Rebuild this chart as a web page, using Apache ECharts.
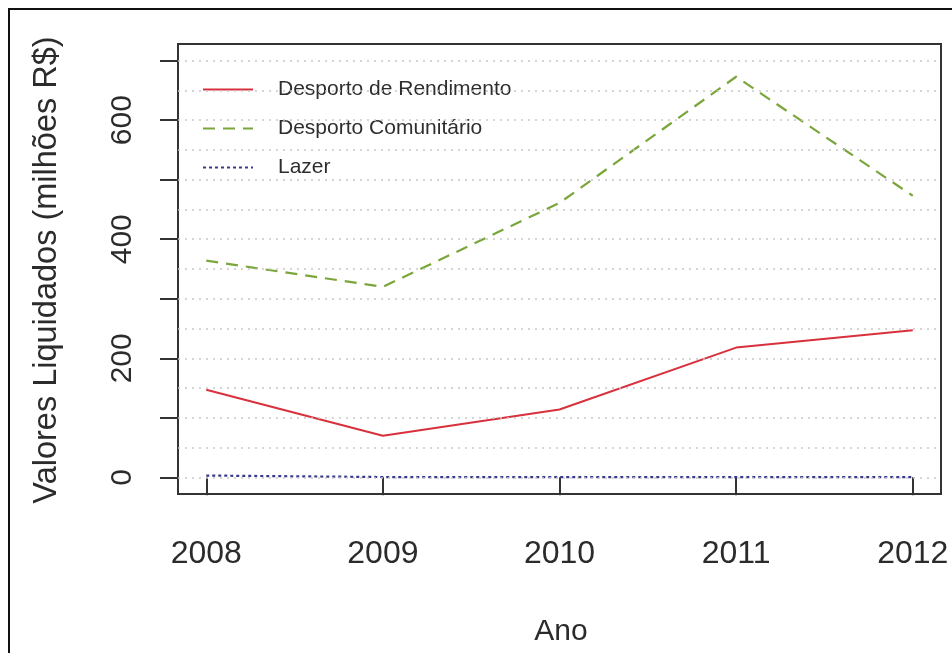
<!DOCTYPE html>
<html>
<head>
<meta charset="utf-8">
<script src="https://cdn.jsdelivr.net/npm/echarts@6/dist/echarts.min.js"></script>
<style>
  html, body { margin: 0; padding: 0; background: #fff; }
  #chart { width: 952px; height: 653px; }
</style>
</head>
<body>
<div id="chart"></div>
<script>
// Annual liquidated values (millions R$) by programme
const years = [2008, 2009, 2010, 2011, 2012];
const rendimento = [147, 70, 114, 218, 247];
const comunitario = [364, 320, 461, 673, 473];
const lazer = [3, 0.5, 0.5, 0.5, 0.5];

const seriesNames = ['Desporto de Rendimento', 'Desporto Comunitário', 'Lazer'];
const yTickValues = [0, 100, 200, 300, 400, 500, 600, 700];
const yLabelValues = [0, 200, 400, 600];
const gridValues = [0, 50, 100, 150, 200, 250, 300, 350, 400, 450, 500, 550, 600, 650, 700];

const FONT = 'Liberation Sans, Arial, sans-serif';

function pairs(vals) {
  return years.map((y, i) => [y, vals[i]]);
}

const chart = echarts.init(document.getElementById('chart'), null, { renderer: 'canvas' });

chart.setOption({
  backgroundColor: '#ffffff',
  animation: false,
  grid: {
    left: 178, top: 44, width: 763, height: 450,
    show: true, borderColor: '#333', borderWidth: 2, backgroundColor: 'transparent'
  },
  xAxis: {
    type: 'value',
    min: 2007.84, max: 2012.16,
    axisLine: { show: false },
    splitLine: { show: false },
    axisTick: {
      show: true, inside: false, length: 18,
      customValues: years,
      lineStyle: { color: '#333', width: 2 }
    },
    axisLabel: {
      customValues: years,
      margin: 44,
      fontSize: 32, fontFamily: FONT, color: '#2b2b2b',
      formatter: v => String(Math.round(v))
    }
  },
  yAxis: {
    type: 'value',
    min: -28, max: 728,
    axisLine: { show: false },
    splitLine: { show: false },
    axisTick: {
      show: true, inside: false, length: 18,
      customValues: yTickValues,
      lineStyle: { color: '#333', width: 2 }
    },
    axisLabel: {
      customValues: yLabelValues,
      rotate: 90,
      margin: 40,
      fontSize: 30, fontFamily: FONT, color: '#2b2b2b'
    }
  },
  legend: {
    orient: 'vertical',
    left: 202, top: 79,
    padding: 0,
    itemWidth: 50, itemHeight: 14, itemGap: 18,
    itemStyle: { opacity: 0 },
    data: seriesNames.map(n => ({ name: n })),
    textStyle: { fontSize: 21, fontFamily: FONT, color: '#2e2e2e', padding: [0, 0, 0, 20] }
  },
  graphic: [
    {
      type: 'rect', silent: true,
      shape: { x: 9, y: 9, width: 960, height: 660 },
      style: { fill: 'none', stroke: '#111', lineWidth: 2 }
    },
    {
      type: 'text', silent: true,
      x: 47, y: 270, rotation: Math.PI / 2,
      style: {
        text: 'Valores Liquidados (milhões R$)',
        font: '32.5px ' + FONT, fill: '#2b2b2b',
        align: 'center', verticalAlign: 'middle'
      }
    },
    {
      type: 'text', silent: true,
      x: 561, y: 632,
      style: {
        text: 'Ano',
        font: '30px ' + FONT, fill: '#2b2b2b',
        align: 'center', verticalAlign: 'middle'
      }
    }
  ],
  series: [
    {
      name: seriesNames[0],
      type: 'line',
      data: pairs(rendimento),
      symbol: 'none',
      lineStyle: { color: '#d8303c', width: 2, type: 'solid' },
      itemStyle: { color: '#d8303c' },
      z: 3,
      markLine: {
        silent: true, symbol: 'none', label: { show: false },
        lineStyle: { color: '#c8c8c8', type: [2, 5], width: 1.5 },
        data: gridValues.map(v => ({ yAxis: v }))
      }
    },
    {
      name: seriesNames[1],
      type: 'line',
      data: pairs(comunitario),
      symbol: 'none',
      lineStyle: { color: '#7aa63c', width: 2.2, type: [12, 8] },
      itemStyle: { color: '#7aa63c' },
      z: 3
    },
    {
      name: seriesNames[2],
      type: 'line',
      data: pairs(lazer),
      symbol: 'none',
      lineStyle: { color: '#3a3a8c', width: 2.2, type: [3, 3] },
      itemStyle: { color: '#3a3a8c' },
      z: 3
    }
  ]
});
</script>
</body>
</html>
